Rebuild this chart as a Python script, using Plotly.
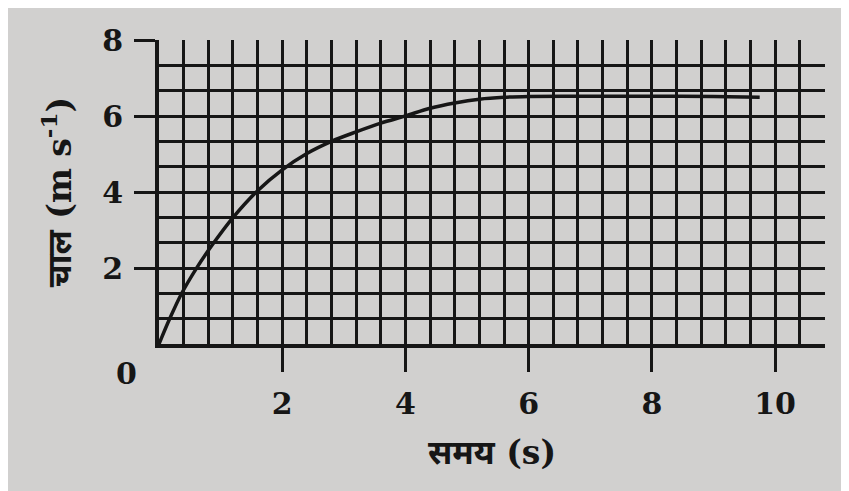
import plotly.graph_objects as go

# Speed-time curve
time_s = [0, 0.175, 0.367, 0.61, 0.86, 1.2, 1.6, 2.0, 2.4, 2.8, 3.2, 3.6, 4.0, 4.4, 4.8, 5.2, 5.6, 6.0, 7.0, 8.0, 9.0, 9.75]
speed = [0, 0.67, 1.33, 2.0, 2.6, 3.33, 4.04, 4.59, 5.02, 5.34, 5.59, 5.82, 6.01, 6.21, 6.35, 6.45, 6.5, 6.52, 6.53, 6.53, 6.52, 6.5]

x_ticks = [2, 4, 6, 8, 10]
y_ticks = [2, 4, 6, 8]
x_title = "समय (s)"
y_title = "चाल (m s<sup>-1</sup>)"

W, H = 841, 483
L, R, T, B = 151, 24, 32, 147

paper = "#d1d0cf"
ink = "#161616"
font_num = dict(family="DejaVu Serif", size=30, color=ink, weight="bold")
font_title = dict(family="DejaVu Serif, Noto Sans", size=33, color=ink, weight="bold")

fig = go.Figure()
fig.add_trace(go.Scatter(x=time_s, y=speed, mode="lines",
                         line=dict(color=ink, width=3.5, shape="spline", smoothing=0.9),
                         hoverinfo="skip", showlegend=False))

fig.update_layout(
    width=W, height=H,
    margin=dict(l=L, r=R, t=T, b=B, pad=0),
    paper_bgcolor=paper,
    plot_bgcolor=paper,
    font=dict(family="DejaVu Serif, Noto Sans", color=ink),
    xaxis=dict(range=[0, 10.81], tickvals=x_ticks, ticks="outside", ticklen=24,
               tickwidth=3, tickcolor=ink, tickfont=font_num, ticklabelstandoff=6,
               showgrid=True, gridcolor=ink, gridwidth=2.5,
               minor=dict(dtick=0.4, tick0=0, showgrid=True, gridcolor=ink, gridwidth=2.5, ticks=""),
               showline=True, linecolor=ink, linewidth=4, zeroline=False,
               title=dict(text=x_title, font=font_title, standoff=22)),
    yaxis=dict(range=[0, 8.01], tickvals=y_ticks, ticks="outside", ticklen=21,
               tickwidth=3, tickcolor=ink, tickfont=font_num, ticklabelstandoff=5,
               showgrid=True, gridcolor=ink, gridwidth=2.5,
               minor=dict(dtick=2 / 3, tick0=0, showgrid=True, gridcolor=ink, gridwidth=2.5, ticks=""),
               showline=True, linecolor=ink, linewidth=4, zeroline=False,
               title=dict(text=y_title, font=font_title, standoff=22)),
    annotations=[dict(x=0, y=0, xref="x", yref="y", text="0", showarrow=False,
                      font=font_num, xshift=-33, yshift=-29)],
)

fig.write_html("out.html")
